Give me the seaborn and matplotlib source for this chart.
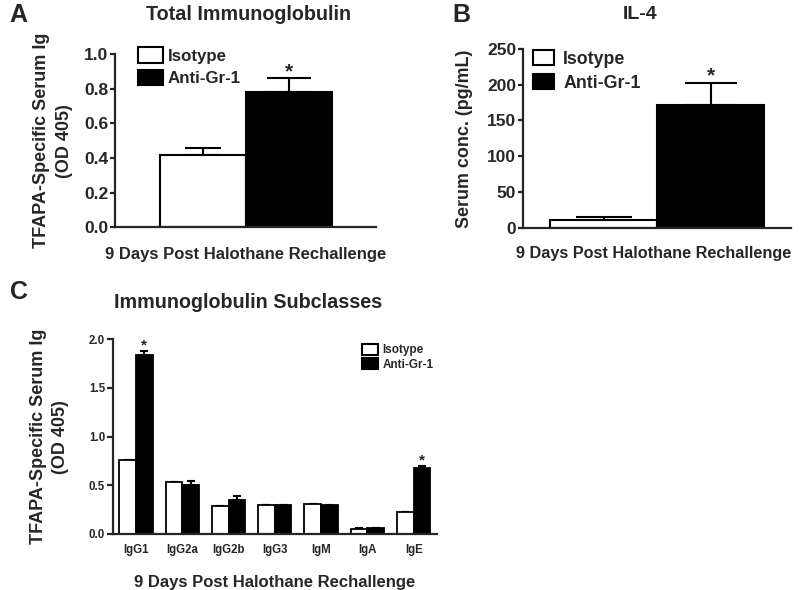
import matplotlib
matplotlib.use("Agg")
import matplotlib.pyplot as plt
import seaborn as sns
import pandas as pd

# Data
groups = ["Isotype", "Anti-Gr-1"]
total_ig_mean = [0.42, 0.78]
total_ig_sem = [0.04, 0.08]
il4_mean = [11, 171]
il4_sem = [4, 32]
subclasses = ["IgG1", "IgG2a", "IgG2b", "IgG3", "IgM", "IgA", "IgE"]
iso_mean = [0.755, 0.53, 0.285, 0.295, 0.31, 0.055, 0.23]
iso_sem = [0.0, 0.0, 0.0, 0.0, 0.0, 0.005, 0.0]
anti_mean = [1.84, 0.50, 0.345, 0.297, 0.294, 0.065, 0.677]
anti_sem = [0.035, 0.045, 0.04, 0.0, 0.0, 0.0, 0.025]
starred = ["IgG1", "IgE"]
xlab = "9 Days Post Halothane Rechallenge"

palette = {"Isotype": "white", "Anti-Gr-1": "black"}
FONT = ["Liberation Sans", "DejaVu Sans"]


def style_axes(ax, tick_size, tick_len=3.5):
    sns.despine(ax=ax)
    for s in ["left", "bottom"]:
        ax.spines[s].set_linewidth(1.6)
    ax.tick_params(axis="y", width=1.6, length=tick_len, labelsize=tick_size, pad=1.5)
    for t in ax.get_yticklabels():
        t.set_fontweight("bold")


def add_errors(ax, sems, capsizes):
    # one container per hue level
    for cont, err, cap in zip(ax.containers, sems, capsizes):
        xs = [p.get_x() + p.get_width() / 2 for p in cont.patches]
        ys = [p.get_height() for p in cont.patches]
        ax.errorbar(xs, ys, yerr=[[0] * len(err), err], fmt="none",
                    ecolor="black", elinewidth=1.5, capsize=cap, capthick=1.5, zorder=0)


def redo_legend(ax, size, anchor, hl, hh, spacing, tpad):
    old = ax.get_legend()
    handles = old.legend_handles
    labels = [t.get_text() for t in old.get_texts()]
    for h in handles:
        h.set_edgecolor("black")
        h.set_linewidth(1.5)
    ax.legend(handles, labels, loc="upper left", bbox_to_anchor=anchor, frameon=False,
              prop={"weight": "bold", "size": size}, handlelength=hl, handleheight=hh,
              labelspacing=spacing, borderpad=0, borderaxespad=0, handletextpad=tpad)


def main():
    sns.set_style("ticks")
    plt.rcParams["font.family"] = FONT

    fig = plt.figure(figsize=(8, 5.9), dpi=100)
    ax_a = fig.add_axes([0.144, 0.615, 0.326, 0.293])
    ax_b = fig.add_axes([0.654, 0.614, 0.335, 0.303])
    ax_c = fig.add_axes([0.141, 0.095, 0.405, 0.330])

    # Panel A
    df_a = pd.DataFrame({"x": [xlab] * 2, "group": groups, "val": total_ig_mean})
    sns.barplot(data=df_a, x="x", y="val", hue="group", hue_order=groups, palette=palette,
                edgecolor="black", linewidth=1.5, width=0.66, gap=0, ax=ax_a)
    add_errors(ax_a, [[total_ig_sem[0]], [total_ig_sem[1]]], [13, 15.5])
    ax_a.set_ylim(0, 1.0)
    ax_a.set_yticks([0, 0.2, 0.4, 0.6, 0.8, 1.0])
    ax_a.set_yticklabels(["0.0", "0.2", "0.4", "0.6", "0.8", "1.0"])
    ax_a.set_xlim(-0.5, 0.5)
    ax_a.set_xticks([])
    ax_a.set_xlabel(xlab, fontsize=12, fontweight="bold", labelpad=14)
    ax_a.set_ylabel("TFAPA-Specific Serum Ig\n(OD 405)", fontsize=13, fontweight="bold",
                    labelpad=8, linespacing=1.45)
    style_axes(ax_a, 12.5)
    p = ax_a.containers[1].patches[0]
    ax_a.annotate("*", (p.get_x() + p.get_width() / 2, total_ig_mean[1] + total_ig_sem[1]),
                  xytext=(0, -2), textcoords="offset points", ha="center", va="bottom",
                  fontsize=15, fontweight="bold")
    redo_legend(ax_a, 12.2, (0.088, 1.04), 1.45, 1.0, 0.35, 0.3)
    fig.text(0.012, 0.975, "A", fontsize=18, fontweight="bold", va="center")
    fig.text(0.311, 0.976, "Total Immunoglobulin", fontsize=14.2, fontweight="bold",
             ha="center", va="center")

    # Panel B
    df_b = pd.DataFrame({"x": [xlab] * 2, "group": groups, "val": il4_mean})
    sns.barplot(data=df_b, x="x", y="val", hue="group", hue_order=groups, palette=palette,
                edgecolor="black", linewidth=1.5, width=0.8, gap=0, ax=ax_b)
    add_errors(ax_b, [[il4_sem[0]], [il4_sem[1]]], [20, 19])
    ax_b.set_ylim(0, 250)
    ax_b.set_yticks([0, 50, 100, 150, 200, 250])
    ax_b.set_xlim(-0.5, 0.5)
    ax_b.set_xticks([])
    ax_b.set_xlabel(xlab, fontsize=11.7, fontweight="bold")
    ax_b.xaxis.set_label_coords(0.485, -0.1)
    ax_b.set_ylabel("Serum conc. (pg/mL)", fontsize=12.9, fontweight="bold", labelpad=10)
    style_axes(ax_b, 12.5)
    p = ax_b.containers[1].patches[0]
    ax_b.annotate("*", (p.get_x() + p.get_width() / 2, il4_mean[1] + il4_sem[1]),
                  xytext=(0, -2), textcoords="offset points", ha="center", va="bottom",
                  fontsize=15, fontweight="bold")
    redo_legend(ax_b, 12.8, (0.037, 0.995), 1.2, 0.95, 0.35, 0.5)
    fig.text(0.566, 0.975, "B", fontsize=18, fontweight="bold", va="center")
    fig.text(0.8, 0.975, "IL-4", fontsize=14, fontweight="bold", ha="center", va="center")

    # Panel C
    df_c = pd.DataFrame({
        "cls": subclasses * 2,
        "group": [groups[0]] * len(subclasses) + [groups[1]] * len(subclasses),
        "val": iso_mean + anti_mean,
    })
    sns.barplot(data=df_c, x="cls", y="val", hue="group", hue_order=groups, order=subclasses,
                palette=palette, edgecolor="black", linewidth=1.3, width=0.72, gap=0, ax=ax_c)
    add_errors(ax_c, [iso_sem, anti_sem], [3, 3])
    ax_c.set_ylim(0, 2.0)
    ax_c.set_yticks([0, 0.5, 1.0, 1.5, 2.0])
    ax_c.set_yticklabels(["0.0", "0.5", "1.0", "1.5", "2.0"])
    ax_c.set_xlim(-0.5, len(subclasses) - 0.5)
    ax_c.tick_params(axis="x", length=0, pad=7, labelsize=8.3)
    for t in ax_c.get_xticklabels():
        t.set_fontweight("bold")
    ax_c.set_xlabel(xlab, fontsize=12, fontweight="bold", labelpad=14)
    ax_c.set_ylabel("TFAPA-Specific Serum Ig\n(OD 405)", fontsize=13, fontweight="bold",
                    labelpad=14, linespacing=1.45)
    style_axes(ax_c, 8.3, tick_len=4)
    anti_bars = ax_c.containers[1].patches
    for name in starred:
        i = subclasses.index(name)
        b = anti_bars[i]
        ax_c.annotate("*", (b.get_x() + b.get_width() / 2, anti_mean[i] + anti_sem[i]),
                      xytext=(0, -1), textcoords="offset points", ha="center", va="bottom",
                      fontsize=11, fontweight="bold")
    redo_legend(ax_c, 8.5, (0.77, 0.975), 1.3, 1.0, 0.15, 0.4)
    fig.text(0.012, 0.505, "C", fontsize=18, fontweight="bold", va="center")
    fig.text(0.31, 0.488, "Immunoglobulin Subclasses", fontsize=14.2, fontweight="bold",
             ha="center", va="center")

    fig.savefig("out.png", dpi=100, facecolor="white")
    plt.close(fig)


if __name__ == "__main__":
    main()
